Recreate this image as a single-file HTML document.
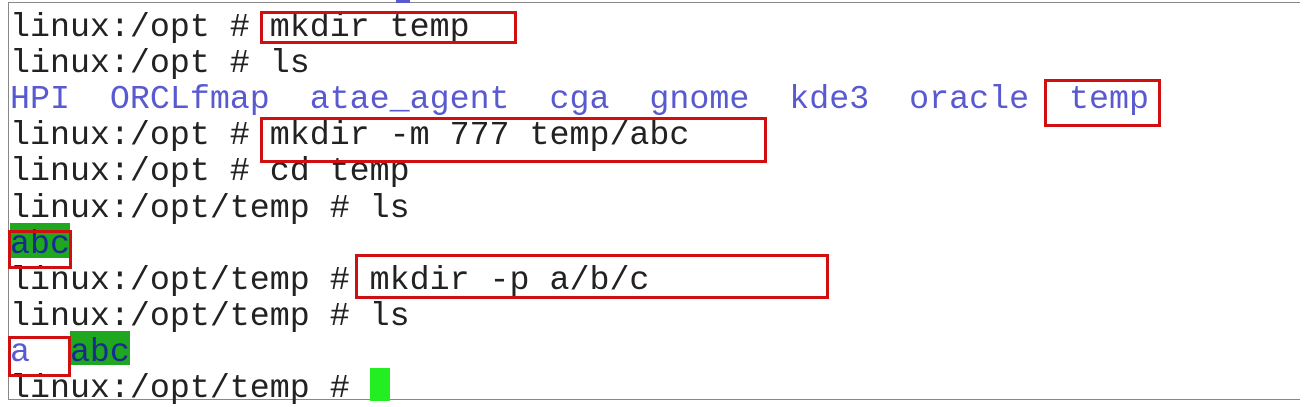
<!DOCTYPE html>
<html><head><meta charset="utf-8"><style>
html,body{margin:0;padding:0;background:#fff;width:1306px;height:407px;overflow:hidden;position:relative}
.frame{position:absolute;left:8px;top:2px;width:1292px;height:398px;border:1.5px solid #888;border-right:none;box-sizing:border-box}
.l{position:absolute;left:10px;font-family:"Liberation Mono",monospace;font-size:33.3px;line-height:36px;white-space:pre;color:#222}
.b{color:#5a5ad0}
.g{position:absolute;background:#1fa81f}
.r{position:absolute;border:3px solid #d01010;box-sizing:border-box}
</style></head><body>
<div class="frame"></div>
<div style="position:absolute;left:396px;top:0;width:14px;height:3px;background:#5a5ad0"></div>
<div class="g" style="left:10px;top:223px;width:60px;height:35px"></div>
<div class="g" style="left:70px;top:331px;width:60px;height:34px"></div>
<div style="position:absolute;left:370px;top:368px;width:20px;height:33px;background:#22ee22"></div>
<div class="l" style="top:9px">linux:/opt # mkdir temp</div>
<div class="l" style="top:45px">linux:/opt # ls</div>
<div class="l b" style="top:81px">HPI  ORCLfmap  atae_agent  cga  gnome  kde3  oracle  temp</div>
<div class="l" style="top:117px">linux:/opt # mkdir -m 777 temp/abc</div>
<div class="l" style="top:153px">linux:/opt # cd temp</div>
<div class="l" style="top:190px">linux:/opt/temp # ls</div>
<div class="l" style="top:226px;color:#1a2a90">abc</div>
<div class="l" style="top:262px">linux:/opt/temp # mkdir -p a/b/c</div>
<div class="l" style="top:298px">linux:/opt/temp # ls</div>
<div class="l" style="top:334px"><span class="b">a</span>  <span style="color:#1a2a90">abc</span></div>
<div class="l" style="top:370px">linux:/opt/temp # </div>
<div class="r" style="left:260px;top:11px;width:257px;height:33px"></div>
<div class="r" style="left:1044px;top:79px;width:117px;height:48px"></div>
<div class="r" style="left:260px;top:117px;width:507px;height:46px"></div>
<div class="r" style="left:8px;top:230px;width:64px;height:39px"></div>
<div class="r" style="left:355px;top:254px;width:474px;height:45px"></div>
<div class="r" style="left:8px;top:336px;width:63px;height:41px"></div>
</body></html>
